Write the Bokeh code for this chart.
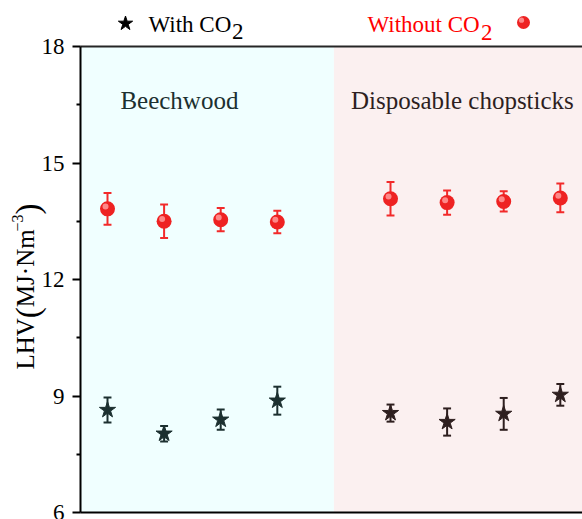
import math
from bokeh.plotting import figure, ColumnDataSource
from bokeh.models import Range1d, Label, FixedTicker
from bokeh.transform import dodge
from bokeh.embed import file_html
from bokeh.resources import INLINE

# Lower heating value of the syngas, two feedstocks, four runs each
groups = ["Beechwood", "Disposable chopsticks"]
group_runs = [[1, 2, 3, 4], [6, 7, 8, 9]]
lhv_with = [8.64, 8.03, 8.39, 8.88, 8.56, 8.33, 8.54, 9.03]
err_with = [0.32, 0.20, 0.26, 0.36, 0.22, 0.35, 0.41, 0.28]
lhv_without = [13.82, 13.50, 13.54, 13.48, 14.08, 13.98, 14.01, 14.10]
err_without = [0.41, 0.43, 0.30, 0.29, 0.43, 0.31, 0.26, 0.37]
y_ticks = [6, 9, 12, 15, 18]

SERIF = "Liberation Serif"
bg_colors = ["#F0FFFF", "#FBF0F0"]
ink_colors = ["#1c3030", "#2e1f1f"]
red = "#F22A2A"
sphere = "#EE2222"
shine = "#FF9A9A"

W, H = 582, 519
x_all = [x for runs in group_runs for x in runs]
star_col = [ink_colors[g] for g, runs in enumerate(group_runs) for _ in runs]

y_lo, y_hi = y_ticks[0], y_ticks[-1]
axis_x = 0.523           # where the value axis stands
x_min, x_max = -0.8905, 9.392
y_min, y_max = 5.82, 19.185
p = figure(width=W, height=H, x_range=Range1d(x_min, x_max), y_range=Range1d(y_min, y_max),
           output_backend="svg", toolbar_location=None,
           min_border_left=0, min_border_right=0, min_border_top=0, min_border_bottom=0)
p.xaxis.visible = False
p.xgrid.visible = False
p.ygrid.visible = False
p.outline_line_color = None

# pixel helpers for annotation placement
sx = W / (x_max - x_min)
sy = H / (y_max - y_min)


def dx(px):
    return x_min + px / sx


def dy(py):
    return y_max - py / sy


# shaded panels behind each feedstock
split = (group_runs[0][-1] + group_runs[1][0]) / 2
p.quad(left=[axis_x, split], right=[split, x_max], bottom=[y_lo] * 2, top=[y_hi] * 2,
       fill_color=bg_colors, line_color=None)

# box lines top and bottom
p.segment(x0=[axis_x, axis_x], x1=[x_max, x_max], y0=[y_hi, y_lo], y1=[y_hi, y_lo],
          line_color=["#262626", "black"], line_width=2)

# y axis
ax = p.yaxis[0]
ax.fixed_location = axis_x
ax.bounds = (y_lo, y_hi)
ax.ticker = FixedTicker(ticks=y_ticks, minor_ticks=[(a + b) / 2 for a, b in zip(y_ticks[:-1], y_ticks[1:])])
ax.axis_line_width = 2
ax.axis_line_color = "black"
ax.major_tick_in = 0
ax.major_tick_out = 8
ax.major_tick_line_width = 2
ax.minor_tick_in = 0
ax.minor_tick_out = 4
ax.minor_tick_line_width = 2
ax.major_label_text_font = SERIF
ax.major_label_text_font_size = "23px"
ax.major_label_text_color = "black"
ax.major_label_standoff = 8

# axis title, set piecewise so the brackets can be taller than the text
# (text, font px, advance in em, baseline x px)
title_parts = [
    ("LHV", 25, 0.611 + 0.722 + 0.722, 25),
    ("(", 33, 0.333, 27),
    ("MJ·Nm", 25, 0.889 + 0.389 + 0.25 + 0.722 + 0.778, 25),
    ("−3", 16, 0.564 + 0.5, 17),
    (")", 33, 0.333, 27),
]
pos = 369.0
for text, fs, adv, bx in title_parts:
    p.add_layout(Label(x=dx(bx), y=dy(pos), text=text, angle=math.pi / 2, text_font=SERIF,
                       text_font_size=f"{fs}px", text_color="black", text_align="left",
                       text_baseline="alphabetic"))
    pos -= adv * fs

cap = 0.07


def error_bars(y, e, color, width):
    lo = [v - d for v, d in zip(y, e)]
    hi = [v + d for v, d in zip(y, e)]
    xl = [x - cap for x in x_all]
    xr = [x + cap for x in x_all]
    p.segment(x0=x_all, y0=lo, x1=x_all, y1=hi, line_color=color, line_width=width)
    p.segment(x0=xl, y0=hi, x1=xr, y1=hi, line_color=color, line_width=width)
    p.segment(x0=xl, y0=lo, x1=xr, y1=lo, line_color=color, line_width=width)


def spheres(xs, ys, size=15):
    src = ColumnDataSource(dict(x=xs, y=ys))
    p.scatter(x="x", y="y", source=src, marker="circle", size=size, fill_color=sphere, line_color=None)
    p.scatter(x=dodge("x", -0.035), y=dodge("y", 0.06), source=src, marker="circle", size=size * 0.4,
              fill_color=shine, line_color=None, fill_alpha=0.85)


# with CO2: stars
error_bars(lhv_with, err_with, star_col, 2)
p.scatter(x=x_all, y=lhv_with, marker="star", size=17, fill_color=star_col, line_color=star_col)

# without CO2: shaded red spheres
error_bars(lhv_without, err_without, red, 2)
spheres(x_all, lhv_without)

# feedstock names
for g, runs in enumerate(group_runs):
    cx = (runs[0] + runs[-1]) / 2 - 0.23
    p.add_layout(Label(x=cx, y=dy(100), text=groups[g], text_font=SERIF, text_font_size="25px",
                       text_color=ink_colors[g], text_align="center", text_baseline="middle"))

# legend above the box
p.scatter(x=[dx(125)], y=[dy(23)], marker="star", size=15, fill_color="black", line_color="black")
p.add_layout(Label(x=dx(148), y=dy(24), text="With CO", text_font=SERIF, text_font_size="23px",
                   text_color="black", text_baseline="middle"))
p.add_layout(Label(x=dx(231.5), y=dy(31), text="2", text_font=SERIF, text_font_size="23px",
                   text_color="black", text_baseline="middle"))
p.add_layout(Label(x=dx(367), y=dy(23.5), text="Without CO", text_font=SERIF, text_font_size="23px",
                   text_color="red", text_baseline="middle"))
p.add_layout(Label(x=dx(480.5), y=dy(31.5), text="2", text_font=SERIF, text_font_size="23px",
                   text_color="red", text_baseline="middle"))
spheres([dx(523)], [dy(22)], size=13)

open("out.html", "w").write(file_html(p, INLINE))
